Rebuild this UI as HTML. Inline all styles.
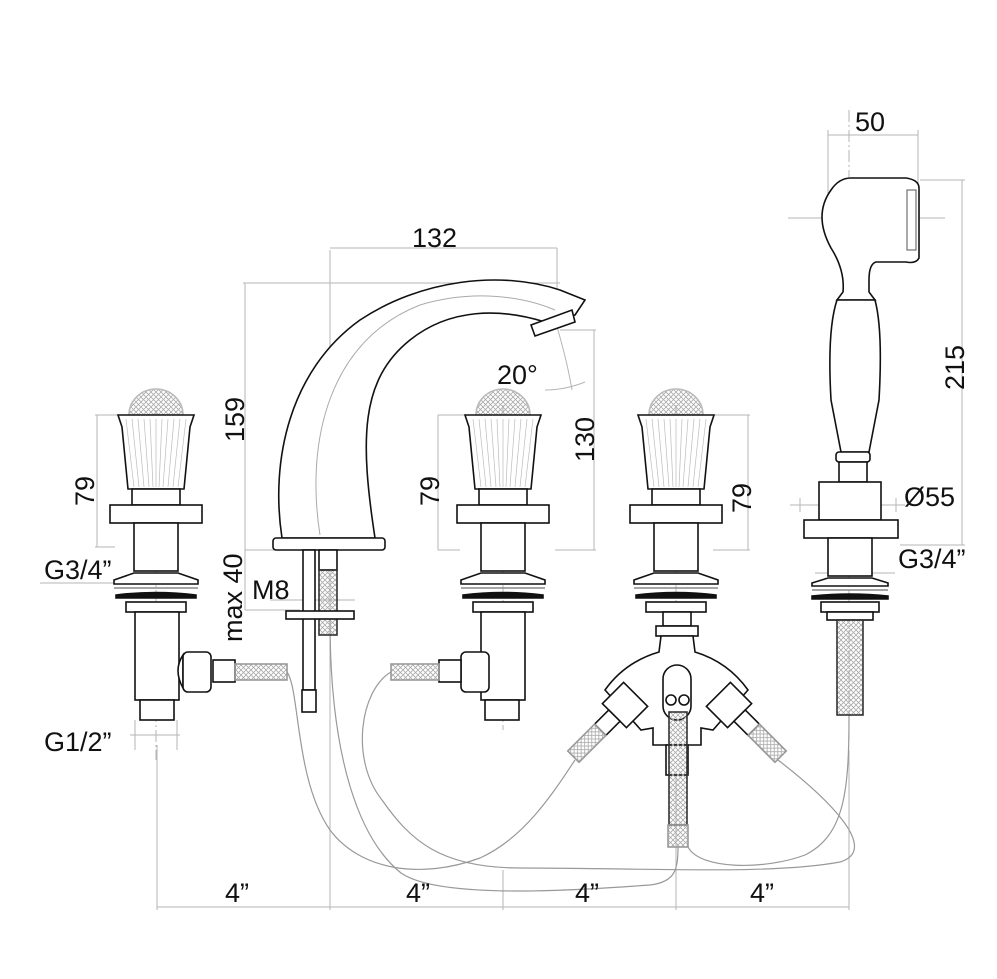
<!DOCTYPE html>
<html><head><meta charset="utf-8"><style>
html,body{margin:0;padding:0;background:#fff;}
svg{display:block}
text{font-family:"Liberation Sans",sans-serif;fill:#111;}
</style></head><body>
<svg width="997" height="979" viewBox="0 0 997 979" xmlns="http://www.w3.org/2000/svg">
<defs>
<pattern id="hatch" width="5" height="5" patternUnits="userSpaceOnUse">
<path d="M0 5L5 0M0 0L5 5" stroke="#aaa" stroke-width="0.8"/>
</pattern>
<g id="valvetop" fill="#fff" stroke="#111" stroke-width="1.6">
<path d="M-27 28 A27 26 0 0 1 27 28 Z" fill="url(#hatch)" stroke="#bbb"/>
<path d="M-38 28 L38 28 L34 40 L28 102 L-28 102 L-34 40 Z"/>
<g stroke="#bbb" stroke-width="0.7" fill="none">
<path d="M-30 32 L-22 100M-24 32 L-17 100M-18 32 L-12 100M-12 32 L-7 100M-6 32 L-3 100M0 32 L0 100M6 32 L3 100M12 32 L7 100M18 32 L12 100M24 32 L17 100M30 32 L22 100"/>
</g>
<rect x="-24" y="102" width="48" height="16"/>
<rect x="-46" y="118" width="92" height="18"/>
<rect x="-22" y="136" width="44" height="48"/>
<path d="M-42 193 L-22 186 L22 186 L42 193 L42 197 L-42 197 Z"/>
<line x1="-42" y1="201" x2="42" y2="201" stroke="#888"/>
<path d="M-40 208 Q0 203 40 208 L40 211 L-40 211 Z" fill="#111"/>
<rect x="-30" y="215" width="60" height="10"/>
</g>
</defs>

<g stroke="#b5b5b5" stroke-width="1" fill="none">
<line x1="156" y1="410" x2="156" y2="760" stroke-dasharray="12 3 2 3"/>
<line x1="503" y1="405" x2="503" y2="730" stroke-dasharray="12 3 2 3"/>
<line x1="676" y1="405" x2="676" y2="660" stroke-dasharray="12 3 2 3"/>
<line x1="849" y1="110" x2="849" y2="740" stroke-dasharray="12 3 2 3"/>
<line x1="330" y1="250" x2="330" y2="910"/>
<line x1="157" y1="745" x2="157" y2="910"/>
<line x1="503" y1="870" x2="503" y2="910"/>
<line x1="676" y1="760" x2="676" y2="910"/>
<line x1="849" y1="750" x2="849" y2="910"/>
<line x1="157" y1="907" x2="849" y2="907"/>
<line x1="95" y1="415" x2="156" y2="415"/><line x1="95" y1="547" x2="115" y2="547"/><line x1="97" y1="415" x2="97" y2="547"/>
<line x1="40" y1="583" x2="190" y2="583"/>
<line x1="130" y1="735" x2="180" y2="735"/><line x1="135" y1="720" x2="135" y2="750"/><line x1="177" y1="720" x2="177" y2="750"/>
<line x1="243" y1="283" x2="560" y2="283"/><line x1="245" y1="283" x2="245" y2="610"/>
<line x1="245" y1="550" x2="280" y2="550"/><line x1="245" y1="610" x2="300" y2="610"/>
<line x1="330" y1="248" x2="557" y2="248"/><line x1="557" y1="248" x2="557" y2="310"/>
<line x1="560" y1="330" x2="596" y2="330"/><line x1="594" y1="330" x2="594" y2="550"/><line x1="555" y1="550" x2="596" y2="550"/>
<path d="M555 320 Q567 360 572 390"/><path d="M545 390 Q565 390 585 382"/>
<line x1="438" y1="415" x2="503" y2="415"/><line x1="438" y1="415" x2="438" y2="550"/><line x1="438" y1="550" x2="460" y2="550"/>
<line x1="678" y1="415" x2="750" y2="415"/><line x1="748" y1="415" x2="748" y2="550"/><line x1="713" y1="550" x2="750" y2="550"/>
<line x1="828" y1="135" x2="918" y2="135"/><line x1="828" y1="130" x2="828" y2="218"/><line x1="918" y1="130" x2="918" y2="190"/>
<line x1="788" y1="218" x2="945" y2="218"/>
<line x1="920" y1="180" x2="965" y2="180"/><line x1="962" y1="180" x2="962" y2="545"/><line x1="900" y1="545" x2="965" y2="545"/>
<line x1="790" y1="505" x2="905" y2="505"/><line x1="800" y1="498" x2="800" y2="512"/><line x1="896" y1="498" x2="896" y2="512"/>
<line x1="815" y1="573" x2="895" y2="573"/>
<line x1="270" y1="600" x2="355" y2="600"/>
</g>

<g stroke="#999" stroke-width="1.2" fill="none">
<path d="M287 672 C300 690 295 780 330 830 C360 870 420 880 480 858 C525 838 555 790 575 760"/>
<path d="M330 620 C330 760 360 840 401 873 C440 900 580 890 650 885 C675 882 678 870 678 847"/>
<path d="M391 672 C360 690 350 760 382 800 C410 840 440 868 520 868 C650 868 770 875 840 862 C880 850 830 800 778 760"/>
<path d="M688 847 C700 870 765 870 805 855 C845 835 849 790 849 715"/>
</g>

<use href="#valvetop" x="156" y="387"/>
<use href="#valvetop" x="503" y="387"/>
<use href="#valvetop" x="676" y="387"/>

<g fill="#fff" stroke="#111" stroke-width="1.6">
<g transform="translate(1 0)">
<rect x="134" y="612" width="44" height="88"/>
<rect x="139" y="700" width="34" height="20"/>
<path d="M182 655 Q172 670 182 688 Z"/>
<rect x="182" y="652" width="28" height="40" rx="5"/>
<rect x="212" y="660" width="22" height="22"/>
<rect x="234" y="664" width="52" height="16" fill="url(#hatch)" stroke="#999"/>
</g>
<g transform="translate(13 0)">
<rect x="468" y="612" width="44" height="88"/>
<rect x="472" y="700" width="34" height="20"/>
<path d="M466 655 Q476 670 466 688 Z"/>
<rect x="448" y="652" width="28" height="40" rx="5"/>
<rect x="426" y="660" width="22" height="22"/>
<rect x="378" y="664" width="48" height="16" fill="url(#hatch)" stroke="#999"/>
</g>
<g transform="translate(13 0)">
<rect x="650" y="612" width="28" height="14"/>
<rect x="643" y="626" width="42" height="10"/>
<path d="M648 636 L680 636 L682 652 Q715 662 735 690 L700 730 L688 728 L688 745 L640 745 L640 728 L628 730 L592 690 Q612 662 646 652 Z"/>
<rect x="650" y="665" width="28" height="55" rx="14"/>
<circle cx="658" cy="700" r="5"/><circle cx="671" cy="700" r="5"/>
<rect x="653" y="745" width="22" height="30"/>
<g transform="rotate(45 612 705)"><rect x="595" y="690" width="34" height="30"/><rect x="604" y="720" width="16" height="20"/><rect x="604" y="740" width="16" height="38" fill="url(#hatch)" stroke="#999"/></g>
<g transform="rotate(-45 716 705)"><rect x="699" y="690" width="34" height="30"/><rect x="708" y="720" width="16" height="20"/><rect x="708" y="740" width="16" height="38" fill="url(#hatch)" stroke="#999"/></g>
<rect x="656" y="712" width="18" height="113" fill="url(#hatch)" stroke="#333"/>
<rect x="655" y="825" width="20" height="22" fill="url(#hatch)" stroke="#999"/>
</g>

<path d="M282 538 C270 460 290 370 360 320 C420 280 500 270 560 290 L585 300 L575 315 L545 322 C500 308 450 308 410 340 C360 380 360 440 375 538 Z"/>
<path d="M320 535 C305 440 330 340 420 305 C470 290 520 295 555 310" fill="none" stroke="#aaa" stroke-width="1"/>
<path d="M531 325 L572 310 L575 322 L535 336 Z"/>
<rect x="273" y="538" width="112" height="12" rx="3"/>
<rect x="303" y="550" width="12" height="140"/>
<rect x="302" y="690" width="14" height="22"/>
<rect x="319" y="550" width="18" height="20"/>
<rect x="319" y="570" width="18" height="65" fill="url(#hatch)" stroke="#333"/>
<rect x="286" y="611" width="68" height="8"/>

<g transform="translate(1 0)">
<path d="M850 178 L905 178 Q918 180 918 188 L918 258 Q915 264 905 262 L875 262 Q868 264 868 280 L868 292 L874 300 L836 300 L842 292 Q844 270 830 248 Q812 215 830 190 Q838 178 850 178 Z"/>
<rect x="906" y="190" width="9" height="60" fill="#fff" stroke="#555" stroke-width="1"/>
<path d="M836 300 L874 300 Q882 330 878 400 L868 452 L840 452 L830 400 Q826 330 836 300 Z"/>
<rect x="835" y="452" width="34" height="10" rx="3"/>
<rect x="838" y="462" width="28" height="20"/>
<rect x="818" y="482" width="62" height="38"/>
<rect x="803" y="520" width="94" height="18"/>
<rect x="827" y="538" width="44" height="38"/>
<path d="M811 583 L827 578 L871 578 L887 583 L887 586 L811 586 Z"/>
<line x1="811" y1="590" x2="887" y2="590" stroke="#888"/>
<path d="M811 596 Q849 592 887 596 L887 599 L811 599 Z" fill="#111"/>
<rect x="820" y="602" width="58" height="10"/>
<rect x="826" y="612" width="46" height="8"/>
<rect x="836" y="620" width="26" height="95" fill="url(#hatch)" stroke="#333"/>
</g>
</g>

<g font-size="27">
<text x="412" y="247">132</text>
<text x="855" y="131">50</text>
<text x="497" y="384">20°</text>
<text x="904" y="506">Ø55</text>
<text x="898" y="568">G3/4”</text>
<text x="44" y="579">G3/4”</text>
<text x="252" y="599">M8</text>
<text x="44" y="751">G1/2”</text>
<text x="225" y="902">4”</text>
<text x="406" y="902">4”</text>
<text x="575" y="902">4”</text>
<text x="750" y="902">4”</text>
<text transform="translate(964 390) rotate(-90)">215</text>
<text transform="translate(244 442) rotate(-90)">159</text>
<text transform="translate(242 642) rotate(-90)">max 40</text>
<text transform="translate(594 462) rotate(-90)">130</text>
<text transform="translate(94 506) rotate(-90)">79</text>
<text transform="translate(439 506) rotate(-90)">79</text>
<text transform="translate(751 513) rotate(-90)">79</text>
</g>
</svg>
</body></html>
